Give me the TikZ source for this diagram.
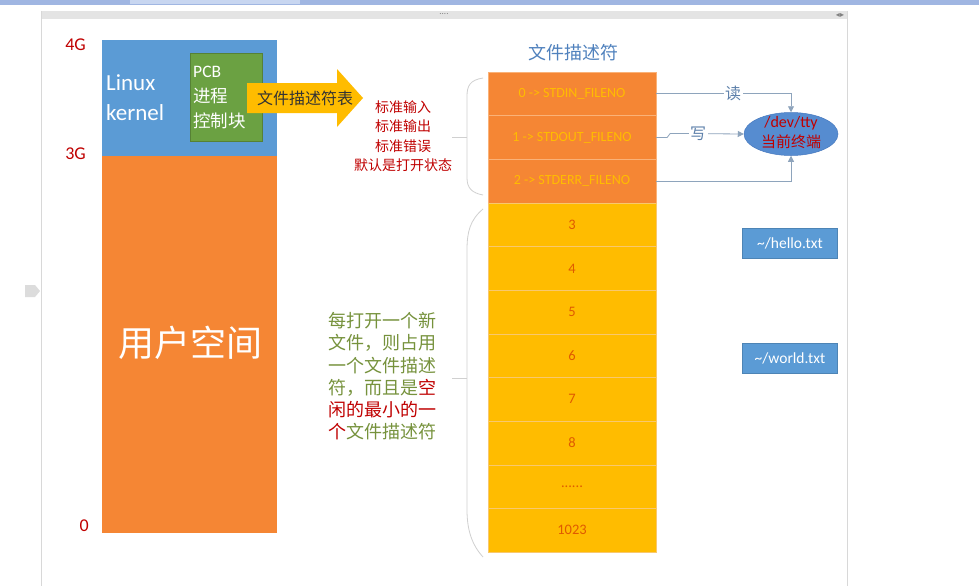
\documentclass[tikz,border=0pt]{standalone}
\usepackage{fontspec}
\setmainfont{Carlito}
\newfontfamily\cjk{Noto Sans CJK SC}
\usetikzlibrary{shapes.geometric,arrows.meta}
\definecolor{kblue}{HTML}{5B9BD5}
\definecolor{uorange}{HTML}{F58634}
\definecolor{pgreen}{HTML}{6BA142}
\definecolor{fyellow}{HTML}{FFBC00}
\definecolor{dred}{HTML}{C00000}
\definecolor{tblue}{HTML}{4F81BD}
\definecolor{conncol}{HTML}{8EA4BC}
\definecolor{pgreentext}{HTML}{76923C}
\definecolor{numcol}{HTML}{E05A00}
\definecolor{bracecol}{HTML}{D0D0D0}
\definecolor{bandblue}{HTML}{A0B6E2}
\definecolor{tabblue}{HTML}{C8D6F0}
\definecolor{bargray}{HTML}{E4E4E4}
\definecolor{bordergray}{HTML}{D8D8D8}
\definecolor{markgray}{HTML}{DCDCDC}
\definecolor{osep}{HTML}{FAB278}
\definecolor{ysep}{HTML}{F8C86E}
\definecolor{ellfill}{HTML}{568CD0}
\definecolor{elldraw}{HTML}{4678BE}
\tikzset{
  orow/.style={draw=osep, fill=uorange, minimum width=168pt, minimum height=43.64pt, inner sep=0pt, text=fyellow, font=\fontsize{14}{15}\selectfont},
  yrow/.style={draw=ysep, fill=fyellow, minimum width=168pt, minimum height=43.64pt, inner sep=0pt, text=numcol, font=\fontsize{14.5}{16}\selectfont},
  conn/.style={draw=conncol, line width=0.8pt},
  arr/.style={conn, -{Triangle[length=6pt,width=6pt]}},
  lbl/.style={fill=white, inner sep=1.5pt, text=tblue!70!gray, font=\cjk\fontsize{16}{18}\selectfont},
  bluebox/.style={fill=kblue, draw=kblue!85!black, line width=0.3pt, minimum width=95pt, minimum height=30pt, inner sep=0pt, text=white, font=\fontsize{15.5}{17}\selectfont},
  gtick/.style={text=dred, font=\fontsize{18}{20}\selectfont},
  brace/.style={draw=bracecol, line width=0.8pt},
}
\begin{document}
\begin{tikzpicture}[x=1pt,y=-1pt]
\useasboundingbox (0,0) rectangle (979,586);
% window frame
\fill[white] (0,0) rectangle (979,586);
\fill[bandblue] (0,0) rectangle (979,5);
\fill[tabblue] (130,0) rectangle (300,4);
\fill[bargray] (41,11) rectangle (847,19);
\node[inner sep=0pt, text=gray, font=\fontsize{9}{9}\selectfont] (dots) at (444,14) {....};
\node[inner sep=0pt, text=gray, font=\fontsize{8}{8}\selectfont] (lr) at (840,15) {{\fontspec{DejaVu Sans}◂▸}};
\draw[bordergray, line width=0.8pt] (41,11) -- (41,586) (847,11) -- (847,586);
\fill[markgray] (25,285) -- (35,285) -- (40,291) -- (35,297) -- (25,297) -- cycle;

% memory column
\node[draw=none, fill=kblue, minimum width=175pt, minimum height=116pt, inner sep=0pt, anchor=north west] (kernel) at (102,40) {};
\node[draw=none, fill=uorange, minimum width=175pt, minimum height=377pt, inner sep=0pt, anchor=north west] (user) at (102,156) {};
\node[text=white, font=\cjk\fontsize{36}{40}\selectfont, inner sep=0pt] (ulabel) at (190,343) {用户空间};
\node[text=white, align=left, anchor=west, inner sep=0pt, font=\fontsize{23}{30}\selectfont] (linux) at (106,98) {Linux\\kernel};
\node[fill=pgreen, draw=pgreen!80!black, line width=0.3pt, minimum width=72pt, minimum height=88pt, inner sep=0pt, anchor=north west] (pcb) at (190,53) {};
\node[text=white, align=left, anchor=north west, inner sep=0pt, font=\cjk\fontsize{17.5}{25}\selectfont] (pcbtext) at (193,66) {{\fontspec{Carlito}PCB}\\进程\\控制块};
\node[gtick, anchor=east, inner sep=0pt] (g4) at (86,45) {4G};
\node[gtick, anchor=east, inner sep=0pt] (g3) at (86,154) {3G};
\node[gtick, anchor=east, inner sep=0pt] (g0) at (89,526) {0};

% big yellow arrow
\fill[fyellow] (247,83) -- (337,83) -- (337,69) -- (363,98) -- (337,127) -- (337,113) -- (247,113) -- cycle;
\node[inner sep=0pt, text=black!80, font=\cjk\fontsize{16}{18}\selectfont] (fdt) at (305,98) {文件描述符表};

% red std text
\node[text=dred, align=center, inner sep=0pt, font=\cjk\fontsize{14}{19.5}\selectfont] (stdtext) at (403,136) {标准输入\\标准输出\\标准错误\\默认是打开状态};

% title
\node[text=tblue, inner sep=0pt, font=\cjk\fontsize{18}{20}\selectfont] (title) at (573,53) {文件描述符};

% table rows
\node[orow] (r0) at (572,93.82) {0 -> STDIN\_FILENO};
\node[orow] (r1) at (572,137.46) {1 -> STDOUT\_FILENO};
\node[orow] (r2) at (572,181.10) {2 -> STDERR\_FILENO};
\node[yrow] (r3) at (572,224.74) {3};
\node[yrow] (r4) at (572,268.38) {4};
\node[yrow] (r5) at (572,312.02) {5};
\node[yrow] (r6) at (572,355.66) {6};
\node[yrow] (r7) at (572,399.30) {7};
\node[yrow] (r8) at (572,442.94) {8};
\node[yrow] (r9) at (572,486.58) {......};
\node[yrow] (r10) at (572,530.22) {1023};

% tty ellipse
\node[ellipse, fill=ellfill, draw=elldraw, line width=0.5pt, minimum width=94pt, minimum height=43pt, inner sep=0pt] (tty) at (791,134) {};
\node[text=dred, align=center, inner sep=0pt, font=\cjk\fontsize{15}{20}\selectfont] (ttytext) at (791,133) {{\fontspec{Carlito}\fontsize{16}{20}\selectfont /dev/tty}\\当前终端};

% connectors
\draw[arr] (r0.east) -- node[lbl, pos=0.57] (rd) {读} (tty.north |- r0.east) -- (tty.north);
\draw[arr] (r1.east) -- ++(11,0) -- ++(3,-4) -- node[lbl, pos=0.38] (wr) {写} (tty.west);
\draw[arr] (r2.east) -- (tty.south |- r2.east) -- (tty.south);

% file boxes
\node[bluebox] (hello) at (790,243) {\textasciitilde/hello.txt};
\node[bluebox] (world) at (790,358) {\textasciitilde/world.txt};

% braces
\coordinate (b1t) at (483,78);
\coordinate (b1b) at (483,195);
\coordinate (b1m) at (452,137);
\draw[brace] (b1t) .. controls (470,80) and (467,86) .. (467,96) -- (467,178) .. controls (467,188) and (472,193) .. (b1b);
\draw[brace] (b1m) -- (467,137);
\coordinate (b2t) at (483,209);
\coordinate (b2b) at (483,557);
\coordinate (b2m) at (452,378);
\draw[brace] (b2t) .. controls (470,220) and (467,232) .. (467,250) -- (467,510) .. controls (467,530) and (472,545) .. (b2b);
\draw[brace] (b2m) -- (467,378);

% explanation paragraph
\node[align=left, anchor=north west, inner sep=0pt, text=pgreentext, font=\cjk\fontsize{18}{22.3}\selectfont] (para) at (328,312) {每打开一个新\\文件，则占用\\一个文件描述\\符，而且是\textcolor{dred}{空}\\\textcolor{dred}{闲的最小的一}\\\textcolor{dred}{个}文件描述符};
\end{tikzpicture}
\end{document}
